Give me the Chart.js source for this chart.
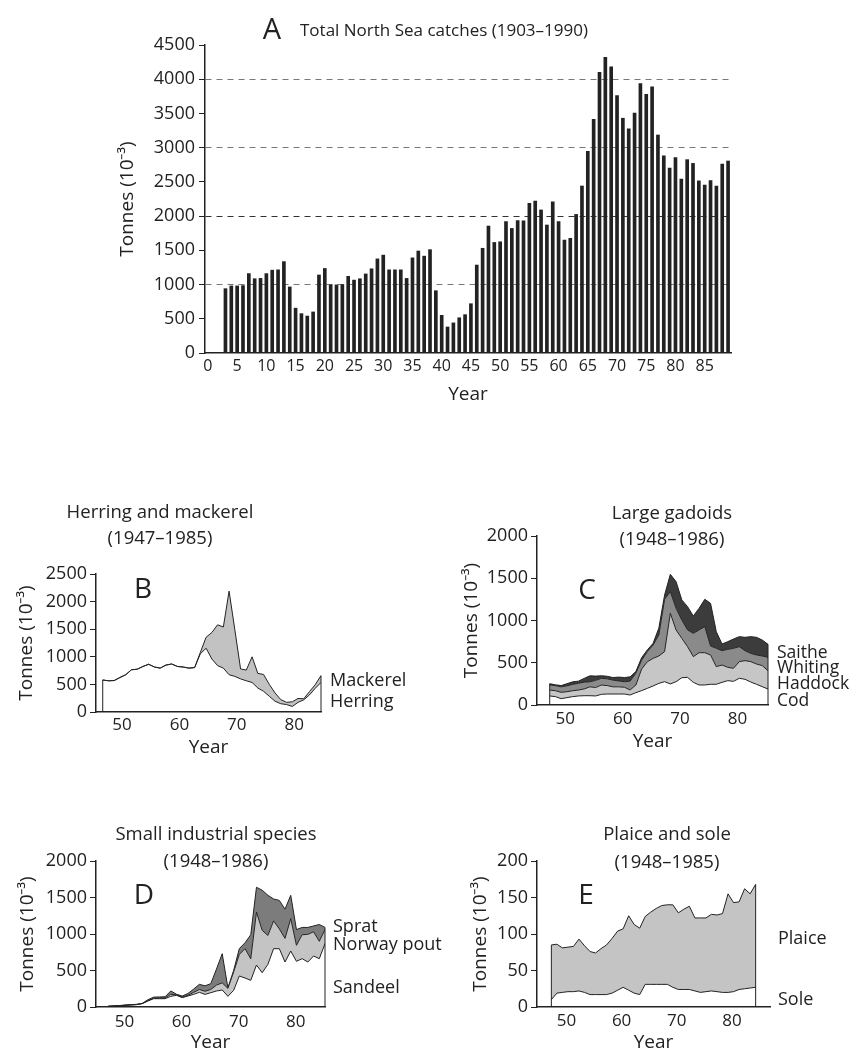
<!DOCTYPE html>
<html>
<head>
<meta charset="utf-8">
<script src="https://cdn.jsdelivr.net/npm/chart.js@4.4.1/dist/chart.umd.min.js"></script>
<style>
  html, body { margin: 0; padding: 0; background: #fff; }
  #page { position: relative; width: 854px; height: 1055px; overflow: hidden; font-family: 'Open Sans', sans-serif; color: #222; }
  #page canvas { position: absolute; }
  .t { position: absolute; white-space: nowrap; line-height: 1; }
</style>
</head>
<body>
<div id="page"></div>
<script>
// ─── DATA ─────────────────────────────────────────────────
// A: total catches, one bar per year 1903..1989 (year given as 0..89 on the axis)
const yearsA = [];
for (let y = 0; y <= 89; y++) yearsA.push(y);
const yearTicksA = [0, 5, 10, 15, 20, 25, 30, 35, 40, 45, 50, 55, 60, 65, 70, 75, 80, 85];
const catchStartA = 3;
const catchesA = [
  940, 980, 980, 985, 1160, 1085, 1090, 1160, 1210, 1215,
  1335, 965, 655, 575, 540, 600, 1140, 1235, 995, 995,
  1000, 1120, 1065, 1085, 1155, 1230, 1375, 1430, 1215, 1215,
  1215, 1090, 1390, 1490, 1415, 1510, 910, 550, 380, 440,
  515, 560, 720, 1285, 1530, 1855, 1615, 1625, 1920, 1820,
  1935, 1930, 2185, 2220, 2090, 1870, 2210, 1920, 1650, 1675,
  2025, 2440, 2945, 3415, 4100, 4320, 4180, 3760, 3430, 3275,
  3505, 3935, 3780, 3890, 3185, 2880, 2700, 2855, 2540, 2825,
  2770, 2515, 2455, 2520, 2440, 2760, 2805
];

const decadeTicks = [50, 60, 70, 80];

// B: herring and mackerel 1947..1985
const yearsB = [];
for (let y = 47; y <= 85; y++) yearsB.push(y);
const herringB = [
  580, 565, 570, 625, 675, 765, 775, 825, 865, 815,
  795, 850, 870, 825, 815, 795, 805, 1055, 1155, 960,
  840, 795, 675, 645, 600, 565, 535, 435, 375, 285,
  195, 150, 135, 100, 175, 220, 310, 430, 535
];
const mackerelB = [
  0, 0, 0, 0, 0, 0, 0, 0, 0, 0,
  0, 0, 0, 0, 0, 0, 0, 25, 200, 480,
  740, 745, 1515, 845, 180, 195, 465, 265, 305, 215,
  150, 75, 40, 85, 70, 20, 60, 65, 125
];

// C: large gadoids 1948..1986
const yearsC = [];
for (let y = 48; y <= 86; y++) yearsC.push(y);
const codC = [
  107, 99, 75, 87, 99, 107, 110, 110, 107, 126,
  130, 130, 130, 130, 118, 146, 170, 197, 225, 256,
  276, 249, 276, 323, 327, 268, 237, 237, 245, 245,
  268, 288, 280, 316, 304, 272, 245, 217, 189
];
const haddockC = [
  70, 70, 75, 70, 70, 70, 80, 105, 100, 110,
  100, 85, 85, 80, 60, 90, 255, 315, 327, 324,
  355, 836, 612, 466, 363, 304, 382, 382, 347, 209,
  205, 158, 154, 197, 221, 241, 240, 249, 217
];
const whitingC = [
  60, 60, 65, 70, 75, 80, 80, 60, 85, 80,
  80, 80, 70, 65, 105, 140, 105, 120, 158, 250,
  620, 256, 256, 217, 198, 276, 269, 308, 106, 217,
  170, 213, 237, 177, 118, 98, 107, 114, 158
];
const saitheC = [
  15, 10, 15, 25, 30, 25, 45, 70, 50, 30,
  30, 30, 45, 50, 50, 20, 30, 20, 20, 80,
  50, 205, 316, 237, 276, 205, 256, 324, 505, 197,
  79, 91, 110, 119, 158, 198, 209, 189, 154
];

// D: small industrial species 1948..1986
const yearsD = [];
for (let y = 48; y <= 86; y++) yearsD.push(y);
const sandeelD = [
  9, 14, 18, 23, 27, 32, 46, 82, 114, 114,
  114, 146, 160, 128, 151, 173, 201, 173, 196, 219,
  233, 146, 228, 425, 397, 365, 575, 470, 584, 799,
  799, 616, 767, 626, 662, 616, 699, 662, 868
];
const poutD = [
  0, 0, 0, 1, 2, 2, 2, 6, 8, 8,
  10, 29, 5, 7, 9, 27, 39, 42, 44, 81,
  97, 109, 252, 295, 403, 295, 725, 580, 396, 381,
  271, 324, 443, 219, 328, 379, 331, 238, 192
];
const spratD = [
  1, 1, 2, 3, 3, 3, 2, 12, 13, 16,
  16, 45, 10, 15, 25, 45, 70, 75, 80, 220,
  400, 7, 20, 80, 80, 330, 340, 550, 550, 300,
  390, 400, 320, 215, 100, 95, 80, 230, 30
];

// E: plaice and sole 1948..1985
const yearsE = [];
for (let y = 48; y <= 85; y++) yearsE.push(y);
const soleE = [
  10, 19, 20, 21, 21, 22, 20, 17, 17, 17,
  17, 19, 23, 27, 23, 19, 17, 31, 31, 31,
  31, 31, 27, 24, 24, 24, 22, 20, 21, 22,
  21, 20, 20, 21, 24, 25, 26, 27
];
const plaiceE = [
  75, 67, 61, 61, 62, 71, 64, 59, 57, 63,
  68, 75, 81, 80, 102, 94, 91, 93, 99, 104,
  108, 109, 113, 105, 110, 114, 100, 102, 101, 105,
  105, 108, 135, 122, 120, 137, 129, 141
];

// ─── HELPERS ──────────────────────────────────────────────
const page = document.getElementById('page');
const INK = '#222';
const AXIS_TITLE_FONT = { size: 19, lineHeight: 1.2 };
Chart.defaults.font.family = "'Open Sans', sans-serif";
Chart.defaults.color = INK;

const plain = v => String(v);   // no thousands separator on ticks

function addCanvas(box) {
  const c = document.createElement('canvas');
  c.width = box.cw;
  c.height = box.ch;
  c.style.left = box.cx + 'px';
  c.style.top = box.cy + 'px';
  page.appendChild(c);
  return c;
}

// works out layout padding + axis sizes so the plot area lands where the reference has it
function frame(box) {
  const lh = AXIS_TITLE_FONT.size * AXIS_TITLE_FONT.lineHeight;
  const padLeft = box.yTitleX - box.cx - lh / 2;
  const xH = box.xTitleY + lh / 2 - box.b;
  return {
    padding: {
      left: padLeft,
      top: box.t - box.cy,
      right: box.cx + box.cw - box.r,
      bottom: box.cy + box.ch - box.b - xH
    },
    yW: box.l - box.cx - padLeft,
    xH
  };
}

function label(text, x, y, size, align) {
  const d = document.createElement('div');
  d.className = 't';
  d.textContent = text;
  d.style.left = x + 'px';
  d.style.top = y + 'px';
  d.style.fontSize = size + 'px';
  d.style.transform = align === 'center' ? 'translate(-50%,-50%)' : 'translate(0,-50%)';
  page.appendChild(d);
}

// vertical closing edges of the stacked areas
const edgePlugin = {
  id: 'edges',
  afterDatasetsDraw(chart, args, opts) {
    if (!opts.sides) return;
    const top = chart.getDatasetMeta(chart.data.datasets.length - 1).data;
    const y0 = chart.scales.y.getPixelForValue(0);
    const ctx = chart.ctx;
    ctx.save();
    ctx.strokeStyle = INK;
    ctx.lineWidth = 1;
    opts.sides.forEach(side => {
      const p = side === 'left' ? top[0] : top[top.length - 1];
      ctx.beginPath();
      ctx.moveTo(p.x, y0);
      ctx.lineTo(p.x, p.y);
      ctx.stroke();
    });
    ctx.restore();
  }
};

function area(years, values, fillColor, isBase) {
  return {
    data: years.map((x, i) => ({ x, y: values[i] })),
    borderColor: INK,
    borderWidth: 1,
    pointRadius: 0,
    pointHoverRadius: 0,
    tension: 0,
    fill: isBase ? false : '-1',
    backgroundColor: fillColor
  };
}

function stackedPanel(box, datasets, y, x, sides) {
  const f = frame(box);
  return new Chart(addCanvas(box), {
    type: 'line',
    data: { datasets },
    plugins: [edgePlugin],
    options: {
      responsive: false,
      animation: false,
      events: [],
      layout: { padding: f.padding, autoPadding: false },
      plugins: { legend: { display: false }, tooltip: { enabled: false }, edges: { sides } },
      scales: {
        x: {
          type: 'linear', min: x.min, max: x.max,
          afterFit: s => { s.height = f.xH; },
          afterBuildTicks: s => { s.ticks = decadeTicks.map(v => ({ value: v })); },
          ticks: { font: { size: 17 }, color: INK, padding: x.pad, labelOffset: x.shift, maxRotation: 0, callback: plain },
          grid: { display: false, drawTicks: false },
          border: { color: INK, width: 1.5 },
          title: { display: true, text: 'Year', font: AXIS_TITLE_FONT, color: INK, padding: 0 }
        },
        y: {
          stacked: true, min: 0, max: y.max,
          afterFit: s => { s.width = f.yW; },
          ticks: { stepSize: y.step, font: { size: 18 }, color: INK, padding: 3, callback: plain },
          grid: { drawOnChartArea: false, drawTicks: true, tickLength: 6, tickColor: INK },
          border: { color: INK, width: 1.5 },
          title: { display: true, text: 'Tonnes (10⁻³)', font: AXIS_TITLE_FONT, color: INK, padding: 0 }
        }
      }
    }
  });
}

// ─── PANEL A ──────────────────────────────────────────────
const boxA = { cx: 0, cy: 0, cw: 854, ch: 430, l: 205, t: 45, r: 731, b: 353, yTitleX: 128, xTitleY: 395 };
const fA = frame(boxA);
new Chart(addCanvas(boxA), {
  type: 'bar',
  data: {
    labels: yearsA,
    datasets: [{
      data: yearsA.map(y => (y >= catchStartA ? catchesA[y - catchStartA] : null)),
      backgroundColor: '#222',
      barThickness: 3
    }]
  },
  options: {
    responsive: false,
    animation: false,
    events: [],
    layout: { padding: fA.padding, autoPadding: false },
    plugins: { legend: { display: false }, tooltip: { enabled: false } },
    scales: {
      x: {
        afterFit: s => { s.height = fA.xH; },
        grid: { display: false, drawTicks: false },
        border: { color: INK, width: 1.5 },
        ticks: {
          autoSkip: false, maxRotation: 0, font: { size: 16 }, color: INK, padding: 4,
          callback: (v, i) => (yearTicksA.includes(yearsA[i]) ? String(yearsA[i]) : null)
        },
        title: { display: true, text: 'Year', font: AXIS_TITLE_FONT, color: INK, padding: 0 }
      },
      y: {
        min: 0, max: 4500,
        afterFit: s => { s.width = fA.yW; },
        ticks: { stepSize: 500, font: { size: 18 }, color: INK, padding: 4, callback: plain },
        grid: {
          drawOnChartArea: true, drawTicks: true, tickLength: 6, tickColor: INK, lineWidth: 1,
          color: c => {
            const v = c.tick ? c.tick.value : 0;
            if (v <= 0 || v >= 4500 || v % 1000 !== 0) return 'rgba(0,0,0,0)';
            return v === 2000 ? '#333' : '#777';
          }
        },
        border: { color: INK, width: 1.5, dash: [6, 5] },
        title: { display: true, text: 'Tonnes (10⁻³)', font: AXIS_TITLE_FONT, color: INK, padding: 0 }
      }
    }
  }
});

// ─── PANEL B ──────────────────────────────────────────────
stackedPanel(
  { cx: 0, cy: 480, cw: 427, ch: 290, l: 96, t: 574, r: 321, b: 712, yTitleX: 27, xTitleY: 748 },
  [area(yearsB, herringB, 'rgba(0,0,0,0)', true), area(yearsB, mackerelB, '#c2c2c2')],
  { max: 2500, step: 500 }, { min: 45.83, max: 85, pad: 3, shift: 2 }, ['left', 'right']
);

// ─── PANEL C ──────────────────────────────────────────────
stackedPanel(
  { cx: 427, cy: 480, cw: 427, ch: 290, l: 537, t: 536, r: 768, b: 705, yTitleX: 472, xTitleY: 742 },
  [
    area(yearsC, codC, 'rgba(0,0,0,0)', true),
    area(yearsC, haddockC, '#c6c6c6'),
    area(yearsC, whitingC, '#8a8a8a'),
    area(yearsC, saitheC, '#3c3c3c')
  ],
  { max: 2000, step: 500 }, { min: 45.79, max: 86, pad: 4, shift: 4 }, ['left', 'right']
);

// ─── PANEL D ──────────────────────────────────────────────
stackedPanel(
  { cx: 0, cy: 790, cw: 427, ch: 265, l: 96, t: 861, r: 325, b: 1007, yTitleX: 28, xTitleY: 1043 },
  [
    area(yearsD, sandeelD, 'rgba(0,0,0,0)', true),
    area(yearsD, poutD, '#c4c4c4'),
    area(yearsD, spratD, '#7c7c7c')
  ],
  { max: 2000, step: 500 }, { min: 45.9, max: 86, pad: 5, shift: 5 }, ['right']
);

// ─── PANEL E ──────────────────────────────────────────────
stackedPanel(
  { cx: 427, cy: 790, cw: 427, ch: 265, l: 537, t: 861, r: 770, b: 1007, yTitleX: 481, xTitleY: 1043 },
  [area(yearsE, soleE, 'rgba(0,0,0,0)', true), area(yearsE, plaiceE, '#c4c4c4')],
  { max: 200, step: 50 }, { min: 45.4, max: 87.6, pad: 4, shift: 4 }, ['left', 'right']
);

// ─── TEXT ─────────────────────────────────────────────────
label('A', 272, 27, 29, 'center');
label('Total North Sea catches (1903–1990)', 300, 29, 17, 'left');

label('Herring and mackerel', 160, 511, 18.5, 'center');
label('(1947–1985)', 160, 537, 18.5, 'center');
label('B', 143, 587, 28, 'center');
label('Mackerel', 330, 679, 18, 'left');
label('Herring', 330, 700, 18, 'left');

label('Large gadoids', 672, 512, 18.5, 'center');
label('(1948–1986)', 672, 538, 18.5, 'center');
label('C', 587, 588, 28, 'center');
label('Saithe', 777, 652, 17.5, 'left');
label('Whiting', 777, 667, 17.5, 'left');
label('Haddock', 777, 683, 17.5, 'left');
label('Cod', 777, 700, 17.5, 'left');

label('Small industrial species', 216, 833, 18.5, 'center');
label('(1948–1986)', 216, 860, 18.5, 'center');
label('D', 144, 893, 28, 'center');
label('Sprat', 333, 925, 18, 'left');
label('Norway pout', 333, 943, 18, 'left');
label('Sandeel', 333, 986, 18, 'left');

label('Plaice and sole', 667, 833, 18.5, 'center');
label('(1948–1985)', 667, 861, 18.5, 'center');
label('E', 586, 893, 28, 'center');
label('Plaice', 778, 937, 18, 'left');
label('Sole', 778, 998, 18, 'left');
</script>
</body>
</html>
